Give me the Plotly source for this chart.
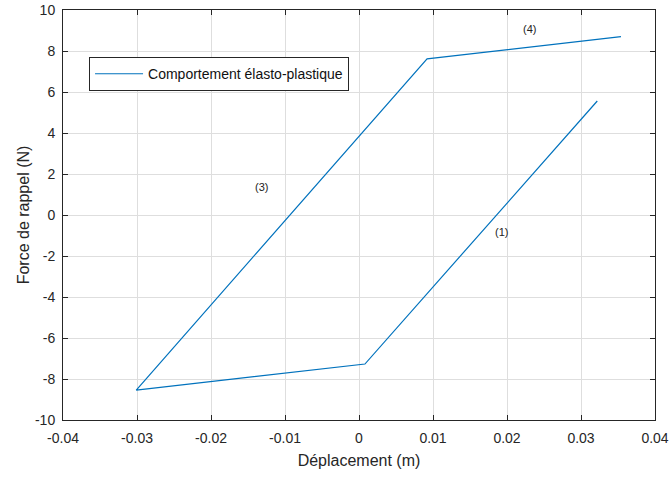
import plotly.graph_objects as go

# Hysteresis path (displacement in m, force in N)
displacement = [0.0322, 0.0008, -0.0301, 0.0092, 0.0354]
force = [5.56, -7.27, -8.54, 7.62, 8.70]

label_text = ["(4)", "(3)", "(1)"]
label_x = [0.0231, -0.0132, 0.0193]
label_y = [9.05, 1.35, -0.85]

x_ticks = [-0.04, -0.03, -0.02, -0.01, 0, 0.01, 0.02, 0.03, 0.04]
x_tick_text = ["-0.04", "-0.03", "-0.02", "-0.01", "0", "0.01", "0.02", "0.03", "0.04"]
y_ticks = [-10, -8, -6, -4, -2, 0, 2, 4, 6, 8, 10]
y_tick_text = ["-10", "-8", "-6", "-4", "-2", "0", "2", "4", "6", "8", "10"]

fig = go.Figure()
fig.add_trace(go.Scatter(
    x=displacement, y=force, mode="lines",
    line=dict(color="#0072BD", width=1.2),
    name="Comportement élasto-plastique",
))

for t, x, y in zip(label_text, label_x, label_y):
    fig.add_annotation(x=x, y=y, text=t, showarrow=False,
                       font=dict(size=11, color="#222222"))

axis_common = dict(
    showgrid=True, gridcolor="#dedede", gridwidth=1,
    zeroline=False, showline=True, linecolor="#262626", linewidth=1,
    mirror="ticks", ticks="inside", ticklen=5, tickcolor="#262626",
    tickfont=dict(size=14, color="#262626"), automargin=False,
)

fig.update_layout(
    width=670, height=477,
    margin=dict(l=63, r=15, t=10, b=57),
    paper_bgcolor="white", plot_bgcolor="white",
    font=dict(family="Liberation Sans, Arial, sans-serif", color="#262626"),
    showlegend=True,
    legend=dict(x=0.044, y=0.885, xanchor="left", yanchor="top",
                bgcolor="white", bordercolor="#262626", borderwidth=1,
                font=dict(size=14, color="#111111"),
                itemwidth=48, tracegroupgap=0),
    xaxis=dict(range=[-0.04, 0.04], tickvals=x_ticks, ticktext=x_tick_text,
               ticklabelstandoff=5,
               title=dict(text="Déplacement (m)", font=dict(size=16), standoff=10),
               **axis_common),
    yaxis=dict(range=[-10, 10], tickvals=y_ticks, ticktext=y_tick_text,
               ticklabelstandoff=4,
               title=dict(text="Force de rappel (N)", font=dict(size=16), standoff=1),
               **axis_common),
)

fig.write_html("out.html", config={"displayModeBar": False},
               post_script="document.body.style.margin='0';document.body.style.overflow='hidden';")
